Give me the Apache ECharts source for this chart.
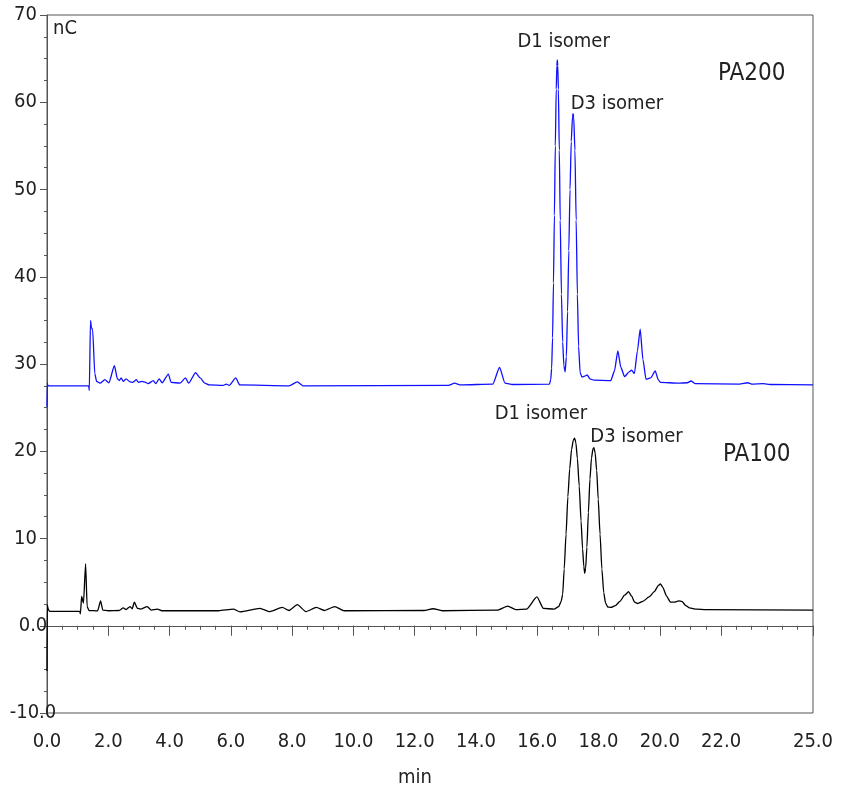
<!DOCTYPE html>
<html>
<head>
<meta charset="utf-8">
<script src="https://cdn.jsdelivr.net/npm/echarts@6/dist/echarts.min.js"></script>
<style>
html,body{margin:0;padding:0;background:#fff;}
#chart{width:843px;height:790px;}
</style>
</head>
<body>
<div id="chart"></div>
<script>
// ---- data (retention time in min, response in nC) ----
const timePA200 = [0.00,0.01,0.03,1.36,1.38,1.42,1.45,1.49,1.56,1.62,1.73,1.89,2.02,2.20,2.30,2.36,2.42,2.49,2.58,2.71,2.80,2.92,2.98,3.10,3.22,3.30,3.47,3.55,3.66,3.76,3.96,4.05,4.34,4.52,4.62,4.85,5.00,5.15,5.30,5.75,5.85,5.95,6.16,6.29,7.90,8.17,8.35,13.10,13.30,13.50,14.55,14.77,14.95,15.20,
  16.40,16.44,16.47,16.50,16.53,16.56,16.59,16.62,16.64,16.655,16.67,16.69,16.72,16.75,16.79,16.83,16.87,16.91,16.95,16.99,17.03,17.07,17.11,17.15,17.17,17.19,17.23,17.27,17.31,17.35,17.40,17.46,17.55,17.63,17.72,17.85,
  18.40,18.52,18.63,18.73,18.85,19.00,19.08,19.17,19.27,19.36,19.45,19.55,19.70,19.85,19.95,20.02,20.60,20.90,21.02,21.15,22.60,22.87,23.00,23.38,23.60,25.00];
const valPA200  = [25.1,27.8,27.5,27.5,26.95,35.0,34.2,33.9,28.9,28.0,27.8,28.2,27.85,29.8,28.3,28.1,28.4,28.0,28.3,27.95,27.9,28.2,27.9,28.0,27.9,27.75,28.1,27.75,28.3,27.85,28.85,27.9,27.8,28.4,27.8,29.0,28.4,27.8,27.6,27.55,27.7,27.55,28.4,27.6,27.5,27.95,27.5,27.55,27.8,27.6,27.7,29.6,27.8,27.65,
  27.7,28.2,29.5,33.0,39.3,47.0,55.0,61.5,64.2,64.85,64.2,61.5,54.5,46.5,38.0,32.5,29.8,29.1,30.8,36.0,43.0,50.0,55.5,58.3,58.7,58.3,54.5,46.5,38.0,32.0,29.0,28.5,28.6,28.75,28.3,28.15,
  28.1,29.2,31.5,29.6,28.55,29.1,29.3,28.9,31.5,34.0,30.5,28.25,28.4,29.2,28.2,27.9,27.8,27.85,28.05,27.75,27.7,27.85,27.7,27.75,27.65,27.6];

const timePA100 = [0.00,0.01,0.04,0.08,1.07,1.09,1.13,1.19,1.26,1.31,1.37,1.65,1.75,1.82,2.00,2.35,2.49,2.58,2.71,2.78,2.85,2.95,3.05,3.27,3.40,3.60,3.75,5.60,6.08,6.30,6.95,7.25,7.68,7.90,8.17,8.45,8.79,9.05,9.39,9.70,12.30,12.60,12.90,14.70,15.04,15.30,15.65,15.99,16.20,
  16.55,16.70,16.78,16.83,16.88,16.94,17.00,17.06,17.12,17.18,17.22,17.26,17.31,17.37,17.43,17.48,17.52,17.55,17.58,17.62,17.67,17.72,17.77,17.82,17.85,17.89,17.94,17.99,18.05,18.11,18.17,18.23,18.30,18.40,
  18.55,18.70,18.85,18.98,19.08,19.18,19.28,19.45,19.65,19.82,19.95,20.02,20.10,20.22,20.35,20.47,20.62,20.72,20.85,20.97,21.20,21.50,25.00];
const valPA100  = [-5.2,2.4,1.9,1.65,1.65,1.35,3.35,2.6,7.1,2.2,1.75,1.7,2.85,1.8,1.72,1.75,2.05,1.85,2.2,1.95,2.7,2.0,1.9,2.2,1.8,1.9,1.72,1.72,1.9,1.6,2.0,1.62,2.1,1.75,2.42,1.62,2.1,1.75,2.2,1.72,1.75,1.95,1.72,1.8,2.25,1.85,1.9,3.3,2.0,
  1.9,2.2,2.8,3.6,6.5,10.5,14.8,18.0,20.2,21.3,21.5,21.0,19.2,16.0,12.0,8.8,6.8,6.0,6.6,9.0,13.0,16.8,19.2,20.3,20.4,19.8,17.8,14.5,10.5,6.5,3.8,2.6,2.15,2.1,
  2.3,2.8,3.5,3.9,3.4,2.7,2.55,2.8,3.3,3.9,4.6,4.8,4.4,3.4,2.7,2.7,2.85,2.8,2.3,2.05,1.9,1.85,1.8];

const xTickLabels = [0,2,4,6,8,10,12,14,16,18,20,22,25];
const yTickLabels = [10,20,30,40,50,60,70];
const yTickLabelsDecimal = [0,-10];

const FONT = "'Liberation Sans Narrow','Arial Narrow','DejaVu Sans Condensed',sans-serif";
const AX = '#555';
const TXT = '#222';
const FS = 20;

const zip = (t, v) => t.map((x, i) => [x, v[i]]);

const chart = echarts.init(document.getElementById('chart'), null, {renderer: 'canvas'});

const isoLabel = (text, coord) => ({
  coord: coord,
  symbol: 'circle',
  symbolSize: 0,
  label: {show: true, position: 'inside', formatter: text, color: TXT, fontSize: 20, fontFamily: FONT}
});

chart.setOption({
  animation: false,
  backgroundColor: '#fff',
  grid: {left: 47, right: 30, top: 15, bottom: 77, show: true, borderColor: AX, borderWidth: 1,
         containLabel: false, outerBoundsMode: 'none'},
  xAxis: [
    {
      type: 'value', min: 0, max: 25, interval: 0.5, position: 'bottom',
      axisLine: {show: true, lineStyle: {color: AX, width: 1}},
      axisTick: {show: true, length: 4, lineStyle: {color: AX}},
      axisLabel: {show: false},
      splitLine: {show: false}
    },
    {
      type: 'value', min: 0, max: 25, position: 'bottom',
      axisLine: {show: false},
      axisTick: {show: true, length: 10, customValues: xTickLabels, lineStyle: {color: AX}},
      axisLabel: {customValues: xTickLabels, formatter: v => v.toFixed(1), margin: 19, color: TXT, fontSize: FS, fontFamily: FONT},
      splitLine: {show: false},
      name: 'min', nameLocation: 'middle', nameGap: 55,
      nameTextStyle: {color: TXT, fontSize: FS, fontFamily: FONT, padding: [0, 30, 0, 0]}
    }
  ],
  yAxis: [
    {
      type: 'value', min: -10, max: 70, interval: 10, position: 'left',
      axisLine: {show: true, lineStyle: {color: AX, width: 1}},
      axisTick: {show: true, length: 7, lineStyle: {color: AX}},
      minorTick: {show: true, splitNumber: 4, length: 3, lineStyle: {color: AX}},
      axisLabel: {customValues: yTickLabels, formatter: v => String(v), margin: 10, color: TXT, fontSize: FS, fontFamily: FONT},
      splitLine: {show: false}
    },
    {
      type: 'value', min: -10, max: 70, position: 'left',
      axisLine: {show: false}, axisTick: {show: false},
      axisLabel: {customValues: yTickLabelsDecimal, formatter: v => v.toFixed(1), align: 'center', margin: 14, color: TXT, fontSize: FS, fontFamily: FONT},
      splitLine: {show: false}
    }
  ],
  series: [
    {
      name: 'PA200', type: 'line', xAxisIndex: 0, yAxisIndex: 0,
      data: zip(timePA200, valPA200),
      showSymbol: false, smooth: 0.2, smoothMonotone: 'x',
      lineStyle: {color: '#1010ff', width: 1.3},
      markPoint: {silent: true, data: [isoLabel('D1 isomer', [16.86, 66.9]), isoLabel('D3 isomer', [18.60, 59.8])]}
    },
    {
      name: 'PA100', type: 'line', xAxisIndex: 0, yAxisIndex: 0,
      data: zip(timePA100, valPA100),
      showSymbol: false, smooth: 0.2, smoothMonotone: 'x',
      lineStyle: {color: '#000', width: 1.3},
      markPoint: {silent: true, data: [isoLabel('D1 isomer', [16.12, 24.27]), isoLabel('D3 isomer', [19.24, 21.64])]}
    }
  ],
  graphic: [
    {type: 'text', left: 53, top: 19, style: {text: 'nC', font: FS + 'px ' + FONT, fill: TXT}},
    {type: 'text', left: 718, top: 62, style: {text: 'PA200', font: '24px ' + FONT, fill: TXT}},
    {type: 'text', left: 723, top: 443, style: {text: 'PA100', font: '24px ' + FONT, fill: TXT}}
  ]
});
</script>
</body>
</html>
